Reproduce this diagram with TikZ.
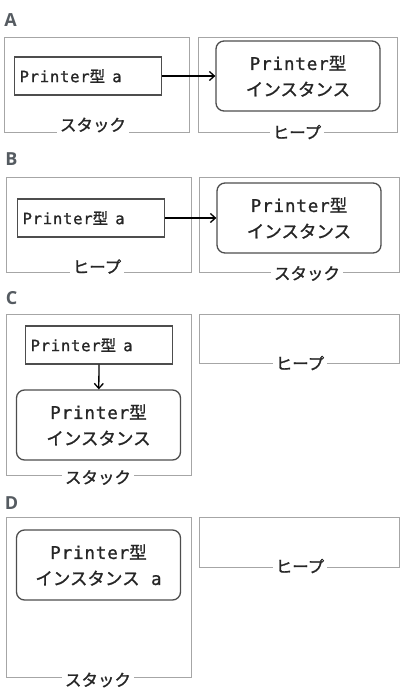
\documentclass[tikz,border=0pt]{standalone}
\usepackage{fontspec}
\setmonofont[FakeBold=1.2, LetterSpace=5]{DejaVu Sans Mono}
\newfontfamily\jpfont[FakeBold=1.2]{Noto Sans CJK JP}
\newfontfamily\headfont{Open Sans}
\usetikzlibrary{arrows.meta, positioning}
\definecolor{txtgray}{HTML}{262626}
\definecolor{boxgray}{HTML}{4D4D4D}
\definecolor{areagray}{HTML}{A6A6A6}
\definecolor{headgray}{HTML}{555B61}
\newcommand{\ptype}{{\ttfamily Printer}{\jpfont 型}}
\tikzset{
  area/.style={draw=areagray, line width=1pt},
  areatag/.style={fill=white, inner xsep=3pt, inner ysep=1pt, text=txtgray,
    font=\jpfont\fontsize{16.5}{18}\selectfont},
  varbox/.style={draw=boxgray, line width=1.3pt, anchor=west, minimum height=38pt,
    text width=137pt, inner xsep=5pt, align=left, text=txtgray,
    font=\fontsize{15.5}{18}\selectfont},
  instbox/.style={draw=boxgray, line width=1.3pt, rounded corners=8pt,
    minimum width=164pt, minimum height=70pt, align=center, text=txtgray,
    font=\fontsize{17.5}{26}\selectfont},
  ref/.style={line width=1.3pt, -{Straight Barb[length=5pt,width=9pt]}},
  panel/.style={text=headgray, font=\headfont\bfseries\fontsize{18}{20}\selectfont}
}

\begin{document}
\begin{tikzpicture}[x=1pt, y=-1pt]
\useasboundingbox (0,0) rectangle (400,697);
% A
\node[panel] (headA) at (10.5,20) {A};
\draw[area] (4,37) rectangle (189,132);
\draw[area] (198,37) rectangle (397,132);
\node[areatag] (stackA) at (93,125) {スタック};
\node[areatag] (heapA) at (297,132) {ヒープ};
\node[varbox] (varA) at (14,76) {\ptype{\ttfamily\ \hspace{2pt}a}};
\node[instbox] (instA) at (298,76) {\ptype\\{\jpfont インスタンス}};
\draw[ref] (varA) -- (instA);
% B
\node[panel] (headB) at (11.5,159) {B};
\draw[area] (6,177) rectangle (191,272);
\draw[area] (199,177) rectangle (399.5,272);
\node[areatag] (heapB) at (97,266.5) {ヒープ};
\node[areatag] (stackB) at (307,273.5) {スタック};
\node[varbox] (varB) at (17,218) {\ptype{\ttfamily\ \hspace{2pt}a}};
\node[instbox] (instB) at (299,218) {\ptype\\{\jpfont インスタンス}};
\draw[ref] (varB) -- (instB);
% C
\node[panel] (headC) at (11.5,298.5) {C};
\draw[area] (6,314) rectangle (191,475);
\draw[area] (199,314) rectangle (399.5,363);
\node[areatag] (stackC) at (98,477.5) {スタック};
\node[areatag] (heapC) at (300,363) {ヒープ};
\node[varbox] (varC) at (25,345) {\ptype{\ttfamily\ \hspace{2pt}a}};
\node[instbox] (instC) at (98.5,425) {\ptype\\{\jpfont インスタンス}};
\draw[ref] (varC) -- (instC);
% D
\node[panel] (headD) at (11.5,503) {D};
\draw[area] (6,517) rectangle (191,677);
\draw[area] (199,517) rectangle (399.5,567);
\node[areatag] (stackD) at (98,680) {スタック};
\node[areatag] (heapD) at (300,566) {ヒープ};
\node[instbox] (instD) at (98.5,565) {\ptype\\{\jpfont インスタンス}{\ttfamily\ a}};
\end{tikzpicture}
\end{document}
